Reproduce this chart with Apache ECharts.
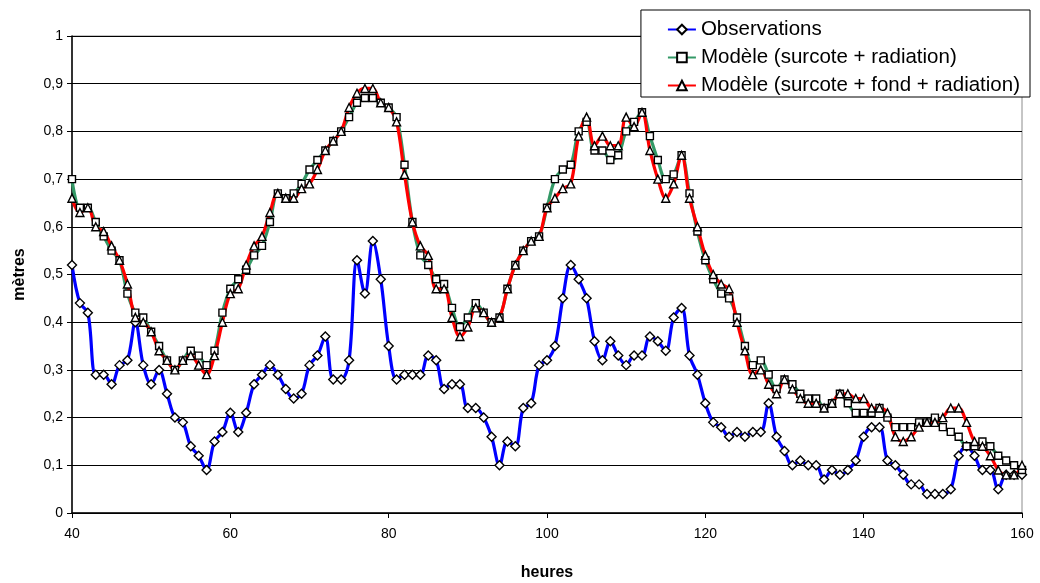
<!DOCTYPE html>
<html><head><meta charset="utf-8">
<script src="https://cdn.jsdelivr.net/npm/echarts@6/dist/echarts.min.js"></script>
<style>html,body{margin:0;padding:0;background:#fff}#c{width:1040px;height:583px}</style>
</head><body><div id="c"></div>
<script>
const hours = [40,41,42,43,44,45,46,47,48,49,50,51,52,53,54,55,56,57,58,59,
60,61,62,63,64,65,66,67,68,69,70,71,72,73,74,75,76,77,78,79,
80,81,82,83,84,85,86,87,88,89,90,91,92,93,94,95,96,97,98,99,
100,101,102,103,104,105,106,107,108,109,110,111,112,113,114,115,116,117,118,119,
120,121,122,123,124,125,126,127,128,129,130,131,132,133,134,135,136,137,138,139,
140,141,142,143,144,145,146,147,148,149,150,151,152,153,154,155,156,157,158,159,160];

const observations = [0.52,0.44,0.42,0.29,0.29,0.27,0.31,0.32,0.40,0.31,0.27,0.30,0.25,0.20,0.19,0.14,0.12,0.09,0.15,0.17,
0.21,0.17,0.21,0.27,0.29,0.31,0.29,0.26,0.24,0.25,0.31,0.33,0.37,0.28,0.28,0.32,0.53,0.46,0.57,0.49,
0.35,0.28,0.29,0.29,0.29,0.33,0.32,0.26,0.27,0.27,0.22,0.22,0.20,0.16,0.10,0.15,0.14,0.22,0.23,0.31,
0.32,0.35,0.45,0.52,0.49,0.45,0.36,0.32,0.36,0.33,0.31,0.33,0.33,0.37,0.36,0.34,0.41,0.43,0.33,0.29,
0.23,0.19,0.18,0.16,0.17,0.16,0.17,0.17,0.23,0.16,0.13,0.10,0.11,0.10,0.10,0.07,0.09,0.08,0.09,0.11,
0.16,0.18,0.18,0.11,0.10,0.08,0.06,0.06,0.04,0.04,0.04,0.05,0.12,0.14,0.12,0.09,0.09,0.05,0.08,0.08,0.08];

const modeleSurcoteRadiation = [0.70,0.64,0.64,0.61,0.58,0.55,0.53,0.46,0.42,0.41,0.38,0.35,0.32,0.30,0.32,0.34,0.33,0.31,0.34,0.42,
0.47,0.49,0.51,0.54,0.56,0.61,0.67,0.66,0.67,0.69,0.72,0.74,0.76,0.78,0.80,0.83,0.86,0.87,0.87,0.86,
0.85,0.83,0.73,0.61,0.54,0.52,0.49,0.48,0.43,0.39,0.41,0.44,0.42,0.40,0.41,0.47,0.52,0.55,0.57,0.58,
0.64,0.70,0.72,0.73,0.80,0.82,0.76,0.76,0.74,0.75,0.80,0.82,0.84,0.79,0.74,0.70,0.71,0.75,0.67,0.59,
0.53,0.49,0.46,0.45,0.41,0.35,0.31,0.32,0.29,0.26,0.28,0.27,0.25,0.24,0.24,0.22,0.23,0.25,0.23,0.21,
0.21,0.21,0.22,0.20,0.18,0.18,0.18,0.19,0.19,0.20,0.18,0.17,0.16,0.14,0.14,0.15,0.14,0.12,0.11,0.10,0.09];

const modeleSurcoteFondRadiation = [0.66,0.63,0.64,0.60,0.59,0.56,0.53,0.48,0.41,0.40,0.38,0.34,0.32,0.30,0.32,0.33,0.31,0.29,0.33,0.40,
0.46,0.47,0.52,0.56,0.58,0.63,0.67,0.66,0.66,0.68,0.69,0.72,0.76,0.78,0.80,0.85,0.88,0.89,0.89,0.86,
0.85,0.82,0.71,0.61,0.56,0.54,0.47,0.47,0.41,0.37,0.39,0.43,0.42,0.40,0.41,0.47,0.52,0.55,0.57,0.58,
0.64,0.66,0.68,0.69,0.79,0.83,0.77,0.79,0.77,0.77,0.83,0.81,0.84,0.76,0.70,0.66,0.69,0.75,0.66,0.60,
0.54,0.50,0.48,0.47,0.40,0.34,0.29,0.30,0.27,0.25,0.28,0.26,0.24,0.23,0.23,0.22,0.23,0.25,0.25,0.24,
0.24,0.22,0.22,0.21,0.16,0.15,0.16,0.18,0.19,0.19,0.20,0.22,0.22,0.19,0.15,0.14,0.12,0.09,0.08,0.08,0.10];

const seriesNames = ['Observations','Modèle (surcote + radiation)','Modèle (surcote + fond + radiation)'];
const xTicks = [40,60,80,100,120,140,160];

function pairs(vals){ return hours.map((h,i)=>[h, vals[i]]); }

const chart = echarts.init(document.getElementById('c'), null, {renderer:'canvas'});
const font = 'Arial, "Liberation Sans", sans-serif';
const markerStyle = {color:'#fff', borderColor:'#000', borderWidth:1.4};
chart.setOption({
  animation:false,
  backgroundColor:'#fff',
  grid:{left:72, right:18, top:36, bottom:70, show:true, borderColor:'#8c8c8c', borderWidth:1,
        containLabel:false, outerBoundsMode:'none'},
  legend:{
    orient:'vertical', right:10, top:10,
    backgroundColor:'#fff', borderColor:'#000', borderWidth:1,
    padding:[9,10,1,26], itemGap:7, itemWidth:28, itemHeight:12,
    textStyle:{fontFamily:font, fontSize:20.5, color:'#000', lineHeight:20},
    data:seriesNames
  },
  xAxis:{
    type:'value', min:40, max:160, interval:20,
    name:'heures', nameLocation:'middle', nameGap:52,
    nameTextStyle:{fontFamily:font, fontSize:16, fontWeight:'bold', color:'#000'},
    axisLine:{lineStyle:{color:'#000', width:1.5}},
    axisTick:{show:true, inside:false, length:5, lineStyle:{color:'#000'}},
    axisLabel:{fontFamily:font, fontSize:14, color:'#000', margin:14,
      formatter:v=> xTicks.includes(v) ? String(v) : ''},
    splitLine:{show:false}
  },
  yAxis:{
    type:'value', min:0, max:1, interval:0.1,
    name:'mètres', nameLocation:'middle', nameGap:44, nameRotate:90,
    nameTextStyle:{fontFamily:font, fontSize:16, fontWeight:'bold', color:'#000'},
    axisLine:{show:true, lineStyle:{color:'#000', width:1.5}},
    axisTick:{show:true, inside:false, length:5, lineStyle:{color:'#000'}},
    axisLabel:{fontFamily:font, fontSize:14, color:'#000', margin:9,
      formatter:v=> (Math.round(v*10)/10).toString().replace('.',',')},
    splitLine:{show:true, lineStyle:{color:'#000', width:1.2}}
  },
  series:[
    {name:seriesNames[0], type:'line', data:pairs(observations), smooth:0.35,
     symbol:'diamond', symbolSize:[9,9], showSymbol:true,
     lineStyle:{color:'#0000ff', width:3.2}, itemStyle:Object.assign({},markerStyle), color:'#0000ff'},
    {name:seriesNames[1], type:'line', data:pairs(modeleSurcoteRadiation), smooth:0.35,
     symbol:'rect', symbolSize:7, showSymbol:true,
     lineStyle:{color:'#339966', width:3.2}, itemStyle:Object.assign({},markerStyle), color:'#339966'},
    {name:seriesNames[2], type:'line', data:pairs(modeleSurcoteFondRadiation), smooth:0.35,
     symbol:'triangle', symbolSize:8, showSymbol:true,
     lineStyle:{color:'#ff0000', width:3.2}, itemStyle:Object.assign({},markerStyle), color:'#ff0000'}
  ]
});
</script>
</body></html>
